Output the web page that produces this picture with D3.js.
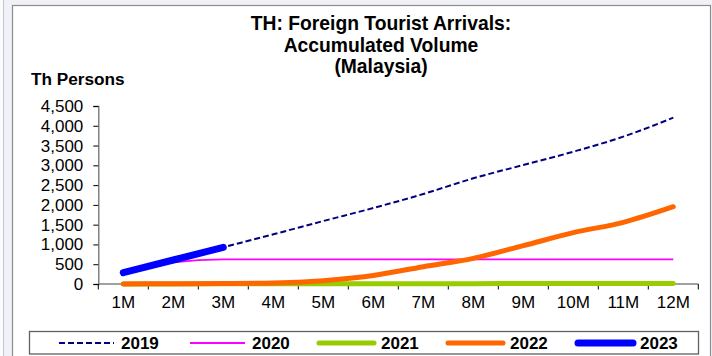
<!DOCTYPE html>
<html><head><meta charset="utf-8">
<script src="https://cdn.jsdelivr.net/npm/d3@7"></script>
<style>body{margin:0;background:#fff}svg{display:block;font-family:Arial,"Liberation Sans",sans-serif}</style>
</head><body><svg id="c" width="712" height="356"></svg>
<script>
const months = ["1M","2M","3M","4M","5M","6M","7M","8M","9M","10M","11M","12M"];
const yTicks = [0,500,1000,1500,2000,2500,3000,3500,4000,4500];
const v2019 = [300, 600, 928, 1256, 1592, 1921, 2275, 2672, 3008, 3345, 3725, 4205];
const v2020 = [295, 545, 623, 623, 623, 623, 623, 623, 623, 623, 623, 623];
const v2021 = [2, 3, 4, 5, 6, 7, 8, 9, 10, 11, 12, 13];
const v2022 = [3, 6, 12, 25, 84, 215, 438, 649, 969, 1298, 1559, 1954];
const v2023 = [287, 607, 928];
const seriesNames = ["2019","2020","2021","2022","2023"];
const titleLines = ["TH: Foreign Tourist Arrivals:","Accumulated Volume","(Malaysia)"];
const unitLabel = "Th Persons";

const styles = {
  "2019": {color:"#000080", width:2, dash:"6,3", cap:"butt"},
  "2020": {color:"#FF00FF", width:1.8, dash:null, cap:"butt"},
  "2021": {color:"#99CC00", width:5, dash:null, cap:"round"},
  "2022": {color:"#FF6600", width:5, dash:null, cap:"round"},
  "2023": {color:"#0000FF", width:7, dash:null, cap:"round"}
};
const data = {"2019":v2019,"2020":v2020,"2021":v2021,"2022":v2022,"2023":v2023};

const svg = d3.select("#c");
// outer frame
svg.append("rect").attr("x",0).attr("y",0).attr("width",712).attr("height",356).attr("fill","#f1f2f7");
svg.append("rect").attr("x",0).attr("y",0).attr("width",3).attr("height",356).attr("fill","#fbfbfd");
svg.append("line").attr("x1",3.5).attr("x2",3.5).attr("y1",0).attr("y2",356).attr("stroke","#c4c6cf");
svg.append("rect").attr("x",12.5).attr("y",5.5).attr("width",698).attr("height",360)
  .attr("fill","#fff").attr("stroke","#8c8c8c").attr("stroke-width",1.2);

const x = d3.scaleBand().domain(months).range([98.3, 698.3]);
const y = d3.scaleLinear().domain([0,4500]).range([284,106]);
const cx = m => x(m) + x.bandwidth()/2;

// title
const t = svg.append("text").attr("text-anchor","middle").attr("font-weight","bold").attr("font-size",19.3).attr("fill","#000");
titleLines.forEach((s,i)=>t.append("tspan").attr("x",381).attr("y",30+i*21.5).text(s));
svg.append("text").attr("x",31).attr("y",85).attr("font-weight","bold").attr("font-size",17.2).text(unitLabel);

// y axis
const ya = svg.append("g").attr("transform","translate(98.3,0)")
  .call(d3.axisLeft(y).tickValues(yTicks).tickSize(5).tickPadding(10).tickFormat(d3.format(",")));
ya.select(".domain").attr("stroke","#707070").attr("stroke-width",1.3);
ya.selectAll(".tick line").attr("stroke","#000");
ya.selectAll(".tick text").attr("font-size",17).attr("fill","#000").attr("font-family","Arial,'Liberation Sans',sans-serif");

// x axis
const xa = svg.append("g").attr("transform","translate(0,284)")
  .call(d3.axisBottom(x).tickSize(0).tickPadding(12));
xa.select(".domain").remove();
xa.selectAll(".tick text").attr("font-size",17).attr("fill","#000").attr("font-family","Arial,'Liberation Sans',sans-serif");
svg.append("line").attr("x1",98.3).attr("x2",698.3).attr("y1",284).attr("y2",284).attr("stroke","#808080").attr("stroke-width",1.3);
const edges = months.map(m=>x(m)).concat([x(months[months.length-1])+x.bandwidth()]);
svg.append("g").selectAll("line").data(edges).join("line")
  .attr("x1",d=>d).attr("x2",d=>d).attr("y1",284).attr("y2",289.5).attr("stroke","#000");

// lines
const line = d3.line().x((d,i)=>cx(months[i])).y(d=>y(d)).curve(d3.curveMonotoneX);
const order = ["2019","2020","2021","2022","2023"];
order.forEach(k=>{
  const s = styles[k];
  svg.append("path").datum(data[k]).attr("d",line).attr("fill","none")
    .attr("stroke",s.color).attr("stroke-width",s.width).attr("stroke-linecap",s.cap)
    .attr("stroke-linejoin","round").attr("stroke-dasharray",s.dash);
});

// legend
svg.append("rect").attr("x",29.5).attr("y",331.5).attr("width",669).attr("height",22.5)
  .attr("fill","#fff").attr("stroke","#606060").attr("stroke-width",1.3);
const legX = [59, 190, 319, 448, 578];
seriesNames.forEach((k,i)=>{
  const s = styles[k];
  svg.append("line").attr("x1",legX[i]).attr("x2",legX[i]+55).attr("y1",343).attr("y2",343)
    .attr("stroke",s.color).attr("stroke-width",s.width).attr("stroke-linecap",s.cap).attr("stroke-dasharray",s.dash);
  svg.append("text").attr("x",legX[i]+62).attr("y",349).attr("font-weight","bold").attr("font-size",17).text(k);
});
</script></body></html>
